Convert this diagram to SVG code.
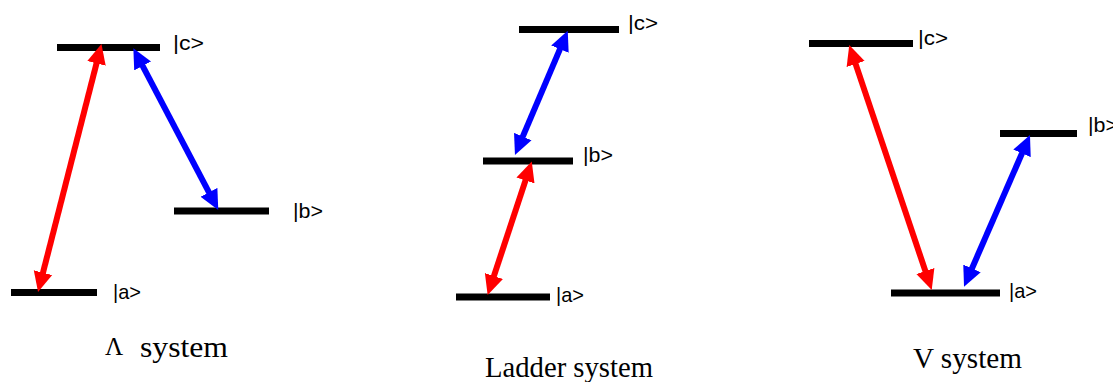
<svg xmlns="http://www.w3.org/2000/svg" width="1113" height="382" viewBox="0 0 1113 382">
  <style>
    .bar { fill: #000; }
    .lbl { font-family: "Liberation Sans", Arial, sans-serif; font-size: 21px; fill: #000; }
    .cap { font-family: "Liberation Serif", "Times New Roman", serif; font-size: 29px; fill: #000; }
    .red { stroke: #ff0000; stroke-width: 6; fill: none; marker-start: url(#hr); marker-end: url(#hr); }
    .blue { stroke: #0000ff; stroke-width: 6; fill: none; marker-start: url(#hb); marker-end: url(#hb); }
  </style>
  <defs>
    <marker id="hr" viewBox="0 0 20 20" markerUnits="userSpaceOnUse" markerWidth="20" markerHeight="20" refX="2" refY="10" orient="auto-start-reverse">
      <path d="M0,0.5 L20,10 L0,19.5 z" fill="#ff0000"/>
    </marker>
    <marker id="hb" viewBox="0 0 20 20" markerUnits="userSpaceOnUse" markerWidth="20" markerHeight="20" refX="2" refY="10" orient="auto-start-reverse">
      <path d="M0,0.5 L20,10 L0,19.5 z" fill="#0000ff"/>
    </marker>
  </defs>

  <rect width="1113" height="382" fill="#fff"/>

  <!-- Lambda system -->
  <g id="lambda-c"><rect class="bar" x="57" y="44" width="103" height="7"/><text class="lbl" x="173" y="50" textLength="31" lengthAdjust="spacingAndGlyphs">|c&gt;</text></g>
  <g id="lambda-b"><rect class="bar" x="174" y="207.5" width="95" height="7"/><text class="lbl" x="293" y="218" textLength="30" lengthAdjust="spacingAndGlyphs">|b&gt;</text></g>
  <g id="lambda-a"><rect class="bar" x="11" y="289" width="86" height="7"/><text class="lbl" x="113" y="298.5" textLength="28" lengthAdjust="spacingAndGlyphs">|a&gt;</text></g>
  <g id="lambda-caption"><text class="cap"><tspan x="105" y="355" font-size="25">Λ</tspan><tspan x="140" y="357" textLength="88" lengthAdjust="spacingAndGlyphs">system</tspan></text></g>

  <!-- Ladder system -->
  <g id="ladder-c"><rect class="bar" x="519" y="26" width="100" height="7"/><text class="lbl" x="628" y="30" textLength="30" lengthAdjust="spacingAndGlyphs">|c&gt;</text></g>
  <g id="ladder-b"><rect class="bar" x="483" y="157.5" width="90" height="7"/><text class="lbl" x="583" y="161.5" textLength="30" lengthAdjust="spacingAndGlyphs">|b&gt;</text></g>
  <g id="ladder-a"><rect class="bar" x="456" y="293.5" width="94" height="7"/><text class="lbl" x="556" y="301.5" textLength="28" lengthAdjust="spacingAndGlyphs">|a&gt;</text></g>
  <g id="ladder-caption"><text class="cap" x="485" y="377" textLength="168" lengthAdjust="spacingAndGlyphs">Ladder system</text></g>

  <!-- V system -->
  <g id="v-c"><rect class="bar" x="809" y="40" width="104" height="7"/><text class="lbl" x="918" y="44.5" textLength="30" lengthAdjust="spacingAndGlyphs">|c&gt;</text></g>
  <g id="v-b"><rect class="bar" x="1000" y="130" width="77" height="7"/><text class="lbl" x="1088" y="132" textLength="30" lengthAdjust="spacingAndGlyphs">|b&gt;</text></g>
  <g id="v-a"><rect class="bar" x="891" y="289.5" width="109" height="7"/><text class="lbl" x="1009" y="298" textLength="28" lengthAdjust="spacingAndGlyphs">|a&gt;</text></g>
  <g id="v-caption"><text class="cap" x="913" y="368" textLength="109" lengthAdjust="spacingAndGlyphs">V system</text></g>

  <!-- Connectors -->
  <g id="connectors">
    <line class="red" x1="42.5" y1="274.6" x2="97.0" y2="61.4"/>
    <line class="blue" x1="141.7" y1="64.2" x2="209.9" y2="194.1"/>
    <line class="blue" x1="522.0" y1="138.4" x2="560.7" y2="47.3"/>
    <line class="red" x1="493.3" y1="277.9" x2="526.1" y2="178.6"/>
    <line class="red" x1="855.0" y1="62.1" x2="926.0" y2="272.9"/>
    <line class="blue" x1="1022.8" y1="151.5" x2="971.2" y2="270.2"/>
  </g>
</svg>
